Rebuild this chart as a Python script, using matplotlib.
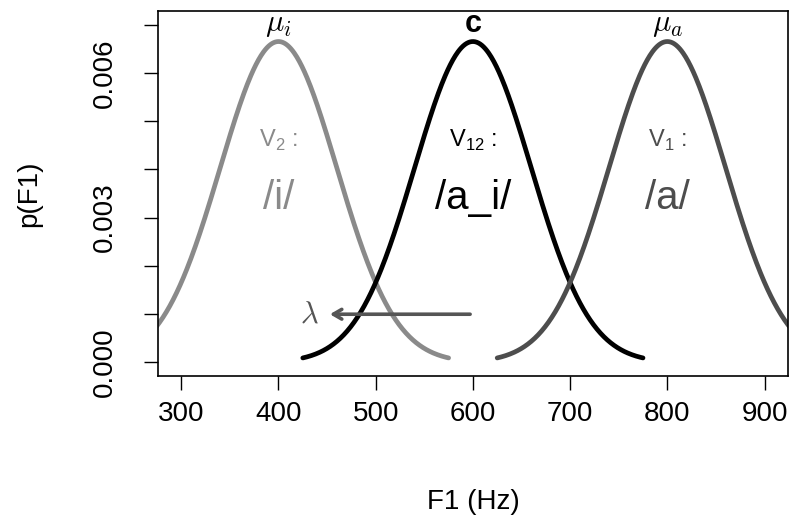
import numpy as np
import matplotlib
matplotlib.use("Agg")
import matplotlib.pyplot as plt

plt.rcParams['font.family'] = ['Liberation Sans', 'DejaVu Sans']

# category means (Hz) and shared spread
means = [400, 600, 800]
sd = 60
half_width = 175
colors = ['#8a8a8a', '#000000', '#4d4d4d']
top_labels = [r'$\mu_i$', 'c', r'$\mu_a$']
vowel_tags = [r'V$_\mathregular{2}$ :', r'V$_\mathregular{12}$ :', r'V$_\mathregular{1}$ :']
vowel_names = ['/i/', '/a_i/', '/a/']

xticks = [300, 400, 500, 600, 700, 800, 900]
yticks = [0.000, 0.001, 0.002, 0.003, 0.004, 0.005, 0.006, 0.007]
ytick_labels = ['0.000', '', '', '0.003', '', '', '0.006', '']

arrow_start = 600
arrow_end = 450
arrow_y = 0.001


def density(x, mu, s):
    return np.exp(-0.5 * ((x - mu) / s) ** 2) / (s * np.sqrt(2 * np.pi))


fig = plt.figure(figsize=(7.91, 5.27), dpi=100)
ax = fig.add_axes([0.1997, 0.2865, 0.7963, 0.6925])

for mu, col in zip(means, colors):
    x = np.linspace(mu - half_width, mu + half_width, 400)
    ax.plot(x, density(x, mu, sd), color=col, lw=3.4, solid_capstyle='round')

peak = density(0, 0, sd)
for mu, col, lab in zip(means, colors, top_labels):
    if lab == 'c':
        ax.text(mu, peak + 0.00037, lab, ha='center', va='center', fontsize=22,
                fontweight='bold', color='black')
    else:
        ax.text(mu, peak + 0.00037, lab, ha='center', va='center', fontsize=22,
                color='black', math_fontfamily='cm')

for mu, col, tag, name in zip(means, colors, vowel_tags, vowel_names):
    ax.text(mu, 0.0046, tag, ha='center', va='center', fontsize=17, color=col)
    ax.text(mu, 0.0034, name, ha='center', va='center', fontsize=29, color=col)

ax.annotate('', xy=(arrow_end, arrow_y), xytext=(arrow_start, arrow_y),
            arrowprops=dict(arrowstyle='->,head_length=0.6,head_width=0.35',
                            color='#555555', lw=2.6))
ax.text(arrow_end - 18, arrow_y, r'$\lambda$', ha='center', va='center',
        fontsize=22, color='#555555', math_fontfamily='cm')

ax.set_xlim(276, 924)
ax.set_ylim(-0.00028, 0.00728)
ax.set_xticks(xticks)
ax.set_yticks(yticks)
ax.set_yticklabels(ytick_labels, rotation=90, va='center')
ax.tick_params(axis='both', labelsize=20, length=10, width=1, direction='out')
ax.tick_params(axis='x', pad=8)
ax.tick_params(axis='y', pad=19)
for sp in ax.spines.values():
    sp.set_linewidth(1.2)

fig.text(0.598, 0.047, 'F1 (Hz)', ha='center', va='center', fontsize=20)
fig.text(0.037, 0.632, 'p(F1)', ha='center', va='center', fontsize=20, rotation=90)

fig.savefig('out.png', dpi=100)
